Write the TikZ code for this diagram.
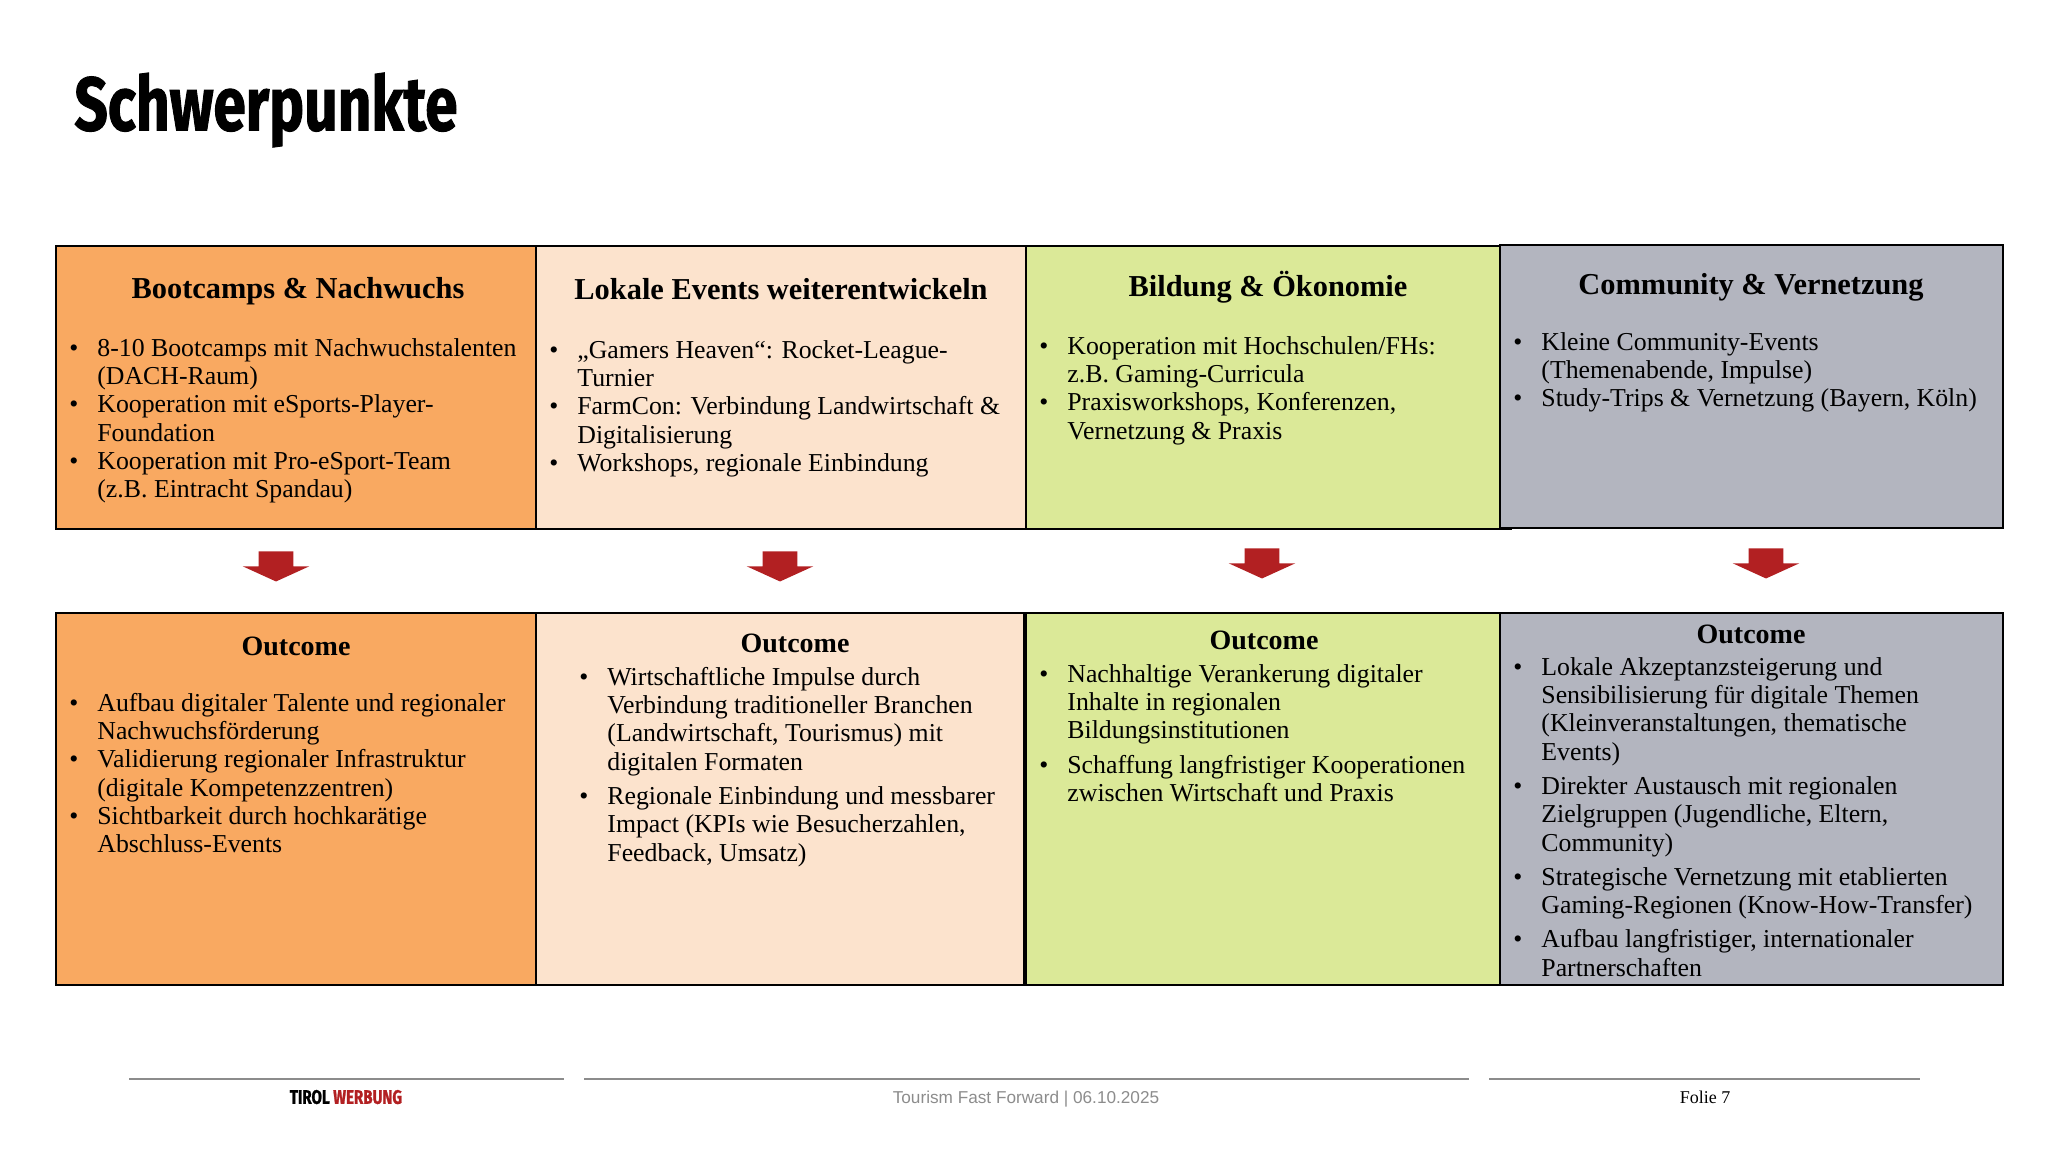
\documentclass[tikz,border=0pt]{standalone}
\usepackage{fontspec}
\usepackage{xcolor}
\usepackage{tikz}
\usetikzlibrary{shapes.arrows}
\setmainfont{Liberation Serif}
\newfontfamily\headfont[FakeStretch=0.77,FakeBold=1.2]{Fira Sans}
\newfontfamily\footfont{Liberation Sans}
\definecolor{orangefill}{HTML}{F9A961}
\definecolor{peachfill}{HTML}{FCE3CD}
\definecolor{greenfill}{HTML}{DBE998}
\definecolor{greyfill}{HTML}{B3B5BF}
\definecolor{arrowred}{HTML}{B22022}
\definecolor{footgrey}{HTML}{8C8C8C}
\newcommand{\bul}{\leavevmode\strut\llap{\textbullet\hspace{9.5pt}}}

\begin{document}
\begin{tikzpicture}[
            x=0.5pt, y=-0.5pt,
            box/.style={draw=black, line width=1pt, anchor=north west, inner sep=0pt, outer sep=0pt},
            headbox/.style={font=\fontsize{15.2}{18}\selectfont\bfseries, inner sep=0pt},
            outbox/.style={font=\fontsize{14}{17}\selectfont\bfseries, inner sep=0pt},
            listbox/.style={font=\fontsize{12.9}{14.15}\selectfont, align=left, anchor=north west, inner sep=0pt},
            downarr/.style={single arrow, draw=none, fill=arrowred, rotate=-90, minimum height=15pt, inner xsep=0pt, inner ysep=8.5pt, single arrow head extend=8pt, single arrow tip angle=131, single arrow head indent=0pt},
            footline/.style={draw=footgrey, line width=0.8pt}
        ]
            \useasboundingbox (0,0) rectangle (2048,1152);
            \node[anchor=west, inner sep=0pt, font=\headfont\fontsize{38}{46}\selectfont\bfseries] (title) at (74,110) {Schwerpunkte};

            \node[box, fill=orangefill, minimum width=240pt, minimum height=141.5pt] (top1) at (56,245.5) {};
            \node[box, fill=peachfill, minimum width=245pt, minimum height=141.5pt] (top2) at (536,245.5) {};
            \node[box, fill=greenfill, minimum width=242.5pt, minimum height=141.5pt] (top3) at (1026,246) {};
            \node[box, fill=greyfill, minimum width=251.5pt, minimum height=141.5pt] (top4) at (1500,244.5) {};
            \node[box, fill=orangefill, minimum width=240pt, minimum height=186pt] (out1) at (56,613) {};
            \node[box, fill=peachfill, minimum width=244pt, minimum height=186pt] (out2) at (536,613) {};
            \node[box, fill=greenfill, minimum width=237.5pt, minimum height=186pt] (out3) at (1026,613) {};
            \node[box, fill=greyfill, minimum width=251.5pt, minimum height=186pt] (out4) at (1500,612.5) {};

            \node[headbox] (head1) at (298,291) {Bootcamps \& Nachwuchs};
            \node[headbox] (head2) at (781,289) {Lokale Events weiterentwickeln};
            \node[headbox] (head3) at (1268,287) {Bildung \& Ökonomie};
            \node[headbox] (head4) at (1751,287) {Community \& Vernetzung};

            \node[listbox] (list1) at (97,336) {\bul 8-10 Bootcamps mit Nachwuchstalenten\\(DACH-Raum)\\\bul Kooperation mit eSports-Player-\\Foundation\\\bul Kooperation mit Pro-eSport-Team\\(z.B. Eintracht Spandau)};
            \node[listbox] (list2) at (577,338) {\bul „Gamers Heaven“: Rocket-League-\\Turnier\\\bul FarmCon: Verbindung Landwirtschaft \&\\Digitalisierung\\\bul Workshops, regionale Einbindung};
            \node[listbox] (list3) at (1067,334) {\bul Kooperation mit Hochschulen/FHs:\\z.B. Gaming-Curricula\\\bul Praxisworkshops, Konferenzen,\\Vernetzung \& Praxis};
            \node[listbox] (list4) at (1541,330) {\bul Kleine Community-Events\\(Themenabende, Impulse)\\\bul Study-Trips \& Vernetzung (Bayern, Köln)};

            \node[downarr] (arr1) at (276,562.5) {};
            \node[downarr] (arr2) at (780,562.5) {};
            \node[downarr] (arr3) at (1262,559.5) {};
            \node[downarr] (arr4) at (1766,559.5) {};

            \node[outbox] (res1) at (296,646) {Outcome};
            \node[outbox] (res2) at (795,643) {Outcome};
            \node[outbox] (res3) at (1264,640) {Outcome};
            \node[outbox] (res4) at (1751,634) {Outcome};

            \node[listbox] (item1) at (97,691) {\bul Aufbau digitaler Talente und regionaler\\Nachwuchsförderung\\\bul Validierung regionaler Infrastruktur\\(digitale Kompetenzzentren)\\\bul Sichtbarkeit durch hochkarätige\\Abschluss-Events};
            \node[listbox] (item2) at (607,665) {\bul Wirtschaftliche Impulse durch\\Verbindung traditioneller Branchen\\(Landwirtschaft, Tourismus) mit\\digitalen Formaten\\[3pt]\bul Regionale Einbindung und messbarer\\Impact (KPIs wie Besucherzahlen,\\Feedback, Umsatz)};
            \node[listbox] (item3) at (1067,662) {\bul Nachhaltige Verankerung digitaler\\Inhalte in regionalen\\Bildungsinstitutionen\\[3pt]\bul Schaffung langfristiger Kooperationen\\zwischen Wirtschaft und Praxis};
            \node[listbox] (item4) at (1541,655) {\bul Lokale Akzeptanzsteigerung und\\Sensibilisierung für digitale Themen\\(Kleinveranstaltungen, thematische\\Events)\\[3pt]\bul Direkter Austausch mit regionalen\\Zielgruppen (Jugendliche, Eltern,\\Community)\\[3pt]\bul Strategische Vernetzung mit etablierten\\Gaming-Regionen (Know-How-Transfer)\\[3pt]\bul Aufbau langfristiger, internationaler\\Partnerschaften};

            \coordinate (f1a) at (129,1079);
            \coordinate (f1b) at (564,1079);
            \coordinate (f2a) at (584,1079);
            \coordinate (f2b) at (1469,1079);
            \coordinate (f3a) at (1489,1079);
            \coordinate (f3b) at (1920,1079);
            \draw[footline] (f1a) -- (f1b);
            \draw[footline] (f2a) -- (f2b);
            \draw[footline] (f3a) -- (f3b);
            \node[inner sep=0pt, font=\headfont\fontsize{9.8}{12}\selectfont\bfseries] (brand) at (346,1097) {TIROL \textcolor{arrowred}{WERBUNG}};
            \node[inner sep=0pt, text=footgrey, font=\footfont\fontsize{8.6}{11}\selectfont] (event) at (1026,1099) {Tourism Fast Forward | 06.10.2025};
            \node[inner sep=0pt, font=\fontsize{9}{11}\selectfont] (page) at (1705,1097) {Folie 7};
        \end{tikzpicture}
\end{document}
